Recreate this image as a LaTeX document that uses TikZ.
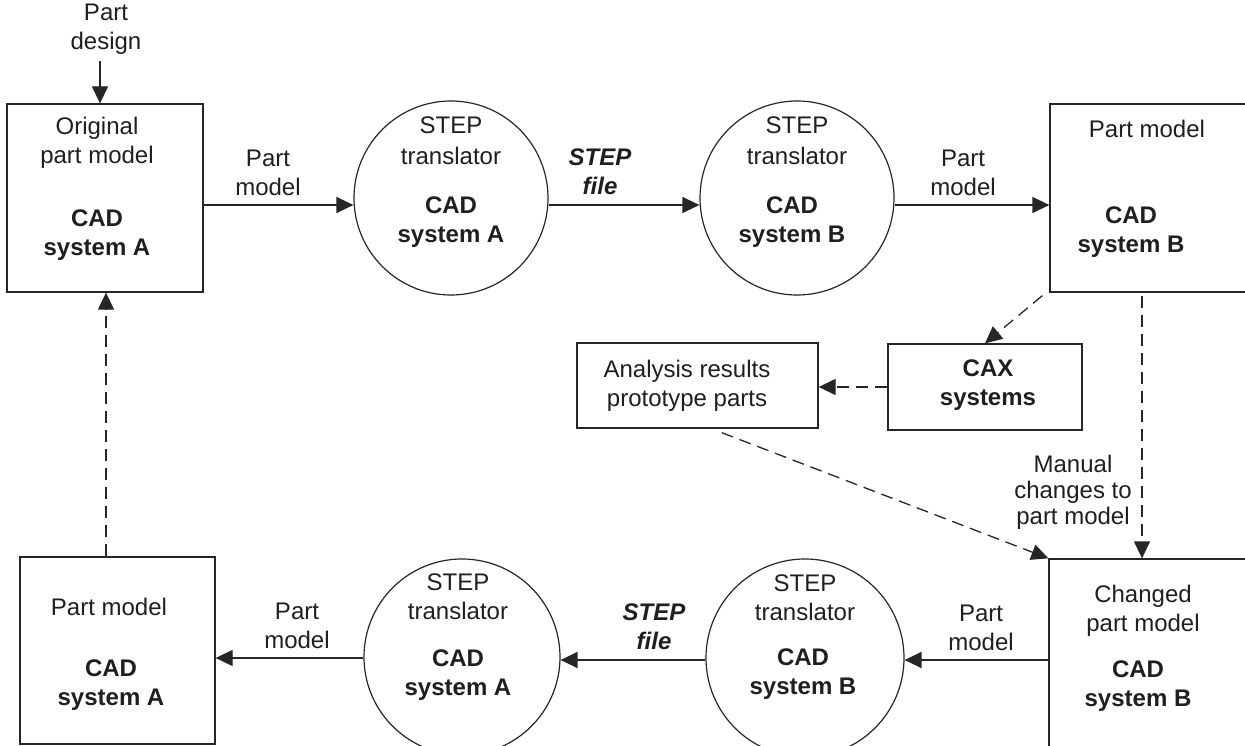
\documentclass[tikz,border=0pt]{standalone}
\usepackage{fontspec}
\setmainfont{Liberation Sans}
\usetikzlibrary{arrows.meta,calc}
\begin{document}
\begin{tikzpicture}[x=1pt,y=-1pt,
  txt/.style={font=\fontsize{24}{29}\selectfont, align=center, inner sep=0pt, text=black!88},
  bld/.style={txt, font=\fontsize{24}{29}\selectfont\bfseries},
  bit/.style={txt, font=\fontsize{24}{29}\selectfont\bfseries\itshape},
  box/.style={draw=black!85, line width=1.3pt, inner sep=0pt},
  rnd/.style={draw=black!85, circle, line width=1.2pt, inner sep=0pt},
  arr/.style={draw=black!85, line width=1.3pt, -{Triangle[length=17pt,width=16pt]}},
  darr/.style={arr, dash pattern=on 12pt off 7pt}]
\useasboundingbox (0,0) rectangle (1245,746);
\clip (0,0) rectangle (1245,746);
\fill[white] (0,0) rectangle (1245,746);

% top row
\node[txt] (pd) at (106,29) {Part\\design};
\node[box, minimum width=196pt, minimum height=188pt] (b1) at (105,198) {};
\node[txt] (t1a) at (97,143) {Original\\part model};
\node[bld] (t1b) at (97,235) {CAD\\system A};
\node[txt] (l1) at (268,173) {Part\\model};
\node[rnd, minimum size=194pt] (c1) at (451,198) {};
\node[txt, font=\fontsize{24}{31}\selectfont] (c1a) at (451,141) {STEP\\translator};
\node[bld] (c1b) at (451,222) {CAD\\system A};
\node[bit] (l2) at (600,172) {STEP\\file};
\node[rnd, minimum size=194pt] (c2) at (797,198) {};
\node[txt, font=\fontsize{24}{31}\selectfont] (c2a) at (797,141) {STEP\\translator};
\node[bld] (c2b) at (792,222) {CAD\\system B};
\node[txt] (l3) at (963,173) {Part\\model};
\node[box, minimum width=210pt, minimum height=188pt] (b2) at (1155,198) {};
\node[txt] (t2a) at (1147,129) {Part model};
\node[bld] (t2b) at (1131,232) {CAD\\system B};

% middle
\node[box, minimum width=194pt, minimum height=86pt] (cax) at (985,387) {};
\node[bld] (caxt) at (988,385) {CAX\\systems};
\node[box, minimum width=241pt, minimum height=85pt] (an) at (697.5,385.5) {};
\node[txt] (ant) at (687,386) {Analysis results\\prototype parts};
\node[txt, font=\fontsize{24}{26}\selectfont] (man) at (1073,492) {Manual\\changes to\\part model};

% bottom row
\node[box, minimum width=212pt, minimum height=202pt] (b3) at (1155,660) {};
\node[txt] (t3a) at (1143,611) {Changed\\part model};
\node[bld] (t3b) at (1138,686) {CAD\\system B};
\node[txt] (l4) at (981,628) {Part\\model};
\node[rnd, minimum size=198pt] (c3) at (805,658) {};
\node[txt] (c3a) at (805,598) {STEP\\translator};
\node[bld] (c3b) at (803,674) {CAD\\system B};
\node[bit] (l5) at (654,627) {STEP\\file};
\node[rnd, minimum size=196pt] (c4) at (462,657) {};
\node[txt] (c4a) at (458,597) {STEP\\translator};
\node[bld] (c4b) at (458,675) {CAD\\system A};
\node[txt] (l6) at (297,626) {Part\\model};
\node[box, minimum width=195pt, minimum height=187pt] (b4) at (117.5,650.5) {};
\node[txt] (t4a) at (109,607) {Part model};
\node[bld] (t4b) at (111,685) {CAD\\system A};

% helper coordinates
\coordinate (pdarrow) at (100,61);
\coordinate (y1) at (0,205);
\coordinate (y2) at (0,660);
\coordinate (y3) at (0,658);
\coordinate (x1) at (1142,0);
\coordinate (x2) at (106,0);

% connectors
\draw[arr] (pdarrow) -- (pdarrow |- b1.north);
\draw[arr] (b1.east |- y1) -- (c1.west |- y1);
\draw[arr] (c1.east |- y1) -- (c2.west |- y1);
\draw[arr] (c2.east |- y1) -- (b2.west |- y1);
\draw[darr] ($(b2.south west)+(-7,3)$) -- (cax.north);
\draw[darr] (cax.west) -- (cax.west -| an.east);
\draw[darr] ($(an.south west)!0.6!(an.south east)+(0,4)$) -- (b3.north west);
\draw[darr] ($(b2.south -| x1)+(0,3)$) -- (b3.north -| x1);
\draw[arr] (b3.west |- y2) -- (c3.east |- y2);
\draw[arr] (c3.west |- y2) -- (c4.east |- y2);
\draw[arr] (c4.west |- y3) -- (b4.east |- y3);
\draw[darr] (b4.north -| x2) -- (b1.south -| x2);
\end{tikzpicture}
\end{document}
